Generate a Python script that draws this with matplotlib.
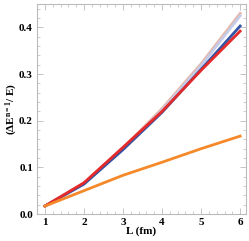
import matplotlib
matplotlib.use("Agg")
import matplotlib.pyplot as plt
from matplotlib.ticker import MultipleLocator

plt.rcParams["font.family"] = ["Liberation Serif", "DejaVu Serif"]
plt.rcParams["mathtext.fontset"] = "custom"
plt.rcParams["mathtext.rm"] = "Liberation Serif:bold"
plt.rcParams["mathtext.bf"] = "Liberation Serif:bold"
plt.rcParams["mathtext.it"] = "Liberation Serif:bold"

L = [1, 2, 3, 4, 5, 6]
salmon = [0.017, 0.066, 0.141, 0.226, 0.322, 0.430]
light_blue = [0.017, 0.065, 0.139, 0.223, 0.318, 0.425]
blue = [0.017, 0.064, 0.138, 0.218, 0.310, 0.403]
red = [0.017, 0.067, 0.143, 0.220, 0.308, 0.392]
orange = [0.017, 0.050, 0.083, 0.111, 0.140, 0.167]

fig = plt.figure(figsize=(2.49, 2.41), dpi=100)
ax = fig.add_axes([0.149, 0.112, 0.839, 0.871])

ax.plot(L, salmon, color="#e8b4a4", lw=2)
ax.plot(L, light_blue, color="#c4cce8", lw=2)
ax.plot(L, blue, color="#3454a4", lw=2)
ax.plot(L, red, color="#e42a2a", lw=2)
ax.plot(L, orange, color="#f5892a", lw=2)

ax.set_xlim(0.8, 6.15)
ax.set_ylim(0, 0.45)
ax.xaxis.set_major_locator(MultipleLocator(1))
ax.xaxis.set_minor_locator(MultipleLocator(0.2))
ax.yaxis.set_major_locator(MultipleLocator(0.1))
ax.yaxis.set_minor_locator(MultipleLocator(0.02))
ax.tick_params(which="both", direction="in", top=True, right=True, color="#bbbbbb", labelsize=8)
ax.tick_params(which="major", length=4, width=0.6, pad=3)
ax.tick_params(which="minor", length=2, width=0.5)
for lab in ax.get_xticklabels() + ax.get_yticklabels():
    lab.set_fontweight("bold")
for s in ax.spines.values():
    s.set_color("#bbbbbb")
    s.set_linewidth(0.8)

ax.set_xlabel("L (fm)", fontsize=8, fontweight="bold")
ax.set_ylabel(r"($\Delta$E$^{\mathbf{n=1}}$/ E)", fontsize=8, fontweight="bold")
ax.xaxis.set_label_coords(0.5, -0.06)
ax.yaxis.set_label_coords(-0.08, 0.5)

fig.savefig("out.png", dpi=100)
